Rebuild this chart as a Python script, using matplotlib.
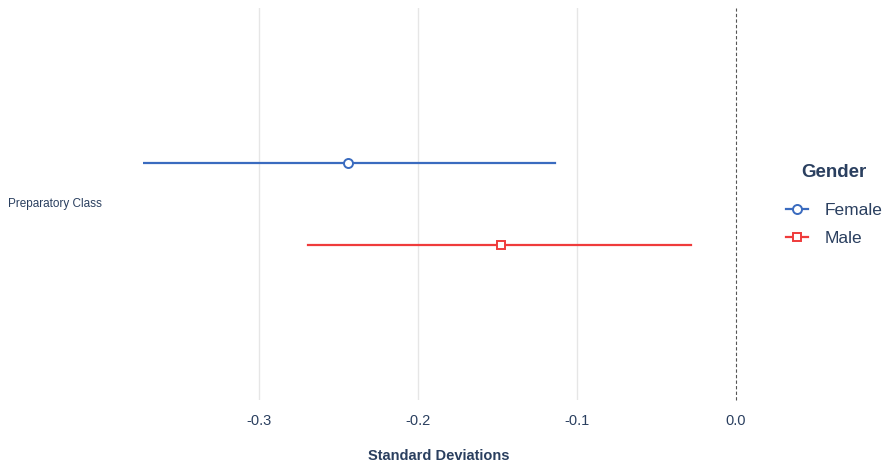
import matplotlib.pyplot as plt
from matplotlib.transforms import blended_transform_factory

plt.rcParams['font.family'] = ['Liberation Sans', 'DejaVu Sans']

# data
category = "Preparatory Class"
groups = ["Female", "Male"]
estimates = [-0.244, -0.148]
ci_low = [-0.373, -0.269]
ci_high = [-0.114, -0.028]
y_offsets = [0.2, -0.2]
colors = ["#3a6bbf", "#ef3b3b"]
markers = ["o", "s"]
xticks = [-0.3, -0.2, -0.1, 0.0]
xtick_labels = ["-0.3", "-0.2", "-0.1", "0.0"]

text_col = "#2a3f5f"

fig = plt.figure(figsize=(8.89, 4.63), dpi=100)
W, H = 889, 463
ax = fig.add_axes([143 / W, (H - 400) / H, (736 - 143) / W, (400 - 8) / H])

for g, est, lo, hi, yo, c, m in zip(groups, estimates, ci_low, ci_high, y_offsets, colors, markers):
    ax.plot([lo, hi], [yo, yo], color=c, lw=1.6, zorder=3)
    ax.plot([est], [yo], marker=m, color=c, mfc="white", mec=c, mew=1.4,
            ms=6.5 if m == "o" else 6, ls="none", zorder=4)

# legend handles
handles = [plt.Line2D([], [], color=c, lw=1.6, marker=m, mfc="white", mec=c,
                      mew=1.4, ms=6.5 if m == "o" else 6)
           for c, m in zip(colors, markers)]
leg = fig.legend(handles, groups, title="Gender", loc="upper left",
                 bbox_to_anchor=(779 / W, 1 - 157 / H), frameon=False,
                 fontsize=12.5, title_fontproperties={"weight": "bold", "size": 13.5},
                 handlelength=1.25, handletextpad=0.95, labelspacing=0.7,
                 borderaxespad=0)
leg._legend_box.sep = 16
for t in leg.get_texts():
    t.set_color(text_col)
leg.get_title().set_color(text_col)

ax.set_xlim(-0.373, 0.0)
ax.set_ylim(-0.955, 0.955)
for x in xticks[:-1]:
    ax.axvline(x, color="#e6e6e6", lw=1.0, zorder=1)
ax.axvline(0.0, color="#555555", lw=0.8, ls=(0, (3, 2)), zorder=2, clip_on=False)

ax.set_xticks(xticks)
ax.set_xticklabels(xtick_labels)
ax.tick_params(axis="x", length=0, pad=10, labelsize=10.5, labelcolor=text_col)
ax.set_yticks([])
for s in ax.spines.values():
    s.set_visible(False)

trans = blended_transform_factory(fig.transFigure, ax.transData)
ax.text(8 / W, 0, category, transform=trans, ha="left", va="center",
        fontsize=8.5, color=text_col)

fig.text(439 / W, 1 - 456 / H, "Standard Deviations", ha="center", va="center",
         fontsize=10.5, fontweight="bold", color=text_col)

fig.savefig("out.png", dpi=100)
